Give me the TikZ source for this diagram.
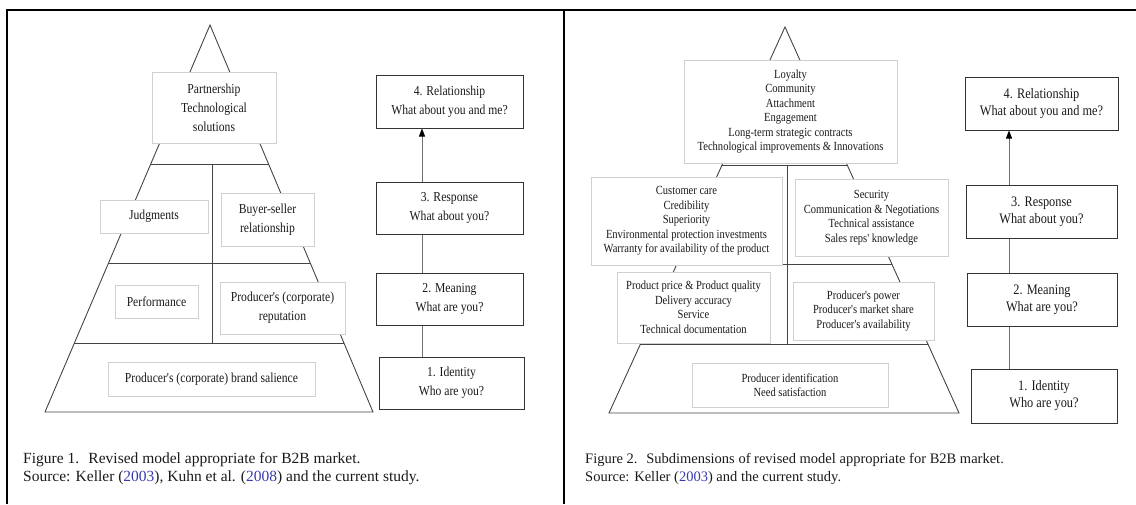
\documentclass[tikz,border=0pt]{standalone}
\usepackage{fontspec}
\setmainfont{Liberation Serif}
\newfontfamily\narrowserif{Liberation Serif}[FakeStretch=0.85]
\usetikzlibrary{arrows.meta,calc}
\definecolor{pyr}{HTML}{444444}
\definecolor{softedge}{HTML}{D0D0D0}
\definecolor{stepline}{HTML}{333333}
\definecolor{linkgray}{HTML}{6E6E6E}
\definecolor{ink}{HTML}{1A1A1A}
\definecolor{citeblue}{HTML}{3A3AB0}
\begin{document}
\begin{tikzpicture}[x=1pt,y=-1pt,
  softbox/.style={draw=softedge, line width=0.9pt, fill=white, inner sep=0pt, align=center, text=ink},
  leftbox/.style={softbox, font=\narrowserif\fontsize{13.7}{19}\selectfont},
  rightbox/.style={softbox, font=\narrowserif\fontsize{12.4}{14.5}\selectfont},
  stepbox/.style={draw=stepline, line width=1pt, fill=white, inner sep=0pt, align=center, text=ink},
  leftstep/.style={stepbox, font=\narrowserif\fontsize{13.7}{19}\selectfont},
  rightstep/.style={stepbox, font=\narrowserif\fontsize{14.5}{17}\selectfont},
  pyrline/.style={draw=pyr, line width=0.9pt},
  link/.style={draw=linkgray, line width=1pt},
  uparrow/.style={link, -{Triangle[length=8pt,width=6pt,color=black]}},
  frameline/.style={draw=black, line width=2.6pt, line join=miter},
  caption/.style={anchor=base west, inner sep=0pt, text=ink}
]
\useasboundingbox (0,0) rectangle (1136,504);

% panel frames
\draw[frameline] (7,504) -- (7,10) -- (564,10) -- (564,504);
\draw[frameline] (564,10) -- (1136,10);

% ---------- left pyramid ----------
\coordinate (la) at (210,25);
\coordinate (lbl) at (45,412);
\coordinate (lbr) at (373,412);
\draw[pyrline] (la) -- (lbl) -- (lbr) -- cycle;
\draw[pyrline] ($(la)!0.3592!(lbl)$) -- ($(la)!0.3592!(lbr)$);
\draw[pyrline] ($(la)!0.6150!(lbl)$) -- ($(la)!0.6150!(lbr)$);
\draw[pyrline] ($(la)!0.8217!(lbl)$) -- ($(la)!0.8217!(lbr)$);
\draw[pyrline] (212,164) -- (212,343);

\node[leftbox, minimum width=124pt, minimum height=71pt] (lt) at (214,107.5) {Partnership\\Technological\\solutions};
\node[leftbox, minimum width=108pt, minimum height=33pt] (lj) at (154,216.5) {Judgments};
\node[leftbox, minimum width=93pt, minimum height=53pt] (lbs) at (267.5,219.5) {Buyer-seller\\relationship};
\node[leftbox, minimum width=83pt, minimum height=33pt] (lp) at (156.5,301.5) {Performance};
\node[leftbox, minimum width=125pt, minimum height=52pt] (lr) at (282.5,308) {Producer's (corporate)\\reputation};
\node[leftbox, minimum width=207pt, minimum height=34pt] (lsal) at (211.5,379) {Producer's (corporate) brand salience};

% left stages
\node[leftstep, minimum width=147pt, minimum height=53pt] (s4) at (449.5,101.5) {4. Relationship\\What about you and me?};
\node[leftstep, minimum width=147pt, minimum height=52pt] (s3) at (449.5,208) {3. Response\\What about you?};
\node[leftstep, minimum width=147pt, minimum height=52pt] (s2) at (449.5,299) {2. Meaning\\What are you?};
\node[leftstep, minimum width=145pt, minimum height=52pt] (s1) at (451.5,383) {1. Identity\\Who are you?};
\coordinate (lcol) at (422,0);
\draw[link] (s1.north -| lcol) -- (s2.south -| lcol);
\draw[link] (s2.north -| lcol) -- (s3.south -| lcol);
\draw[uparrow] (s3.north -| lcol) -- (s4.south -| lcol);

% left caption
\node[caption, font=\fontsize{15.5}{18}\selectfont] (cap1a) at (23,463) {Figure 1.\hspace{0.6em}Revised model appropriate for B2B market.};
\node[caption, font=\fontsize{15.5}{18}\selectfont] (cap1b) at (23,481) {Source: Keller (\textcolor{citeblue}{2003}), Kuhn et al. (\textcolor{citeblue}{2008}) and the current study.};

% ---------- right pyramid ----------
\coordinate (ra) at (785,27);
\coordinate (rbl) at (609,413);
\coordinate (rbr) at (959,413);
\draw[pyrline] (ra) -- (rbl) -- (rbr) -- cycle;
\draw[pyrline] ($(ra)!0.3575!(rbl)$) -- ($(ra)!0.3575!(rbr)$);
\draw[pyrline] ($(ra)!0.6140!(rbl)$) -- ($(ra)!0.6140!(rbr)$);
\draw[pyrline] ($(ra)!0.8212!(rbl)$) -- ($(ra)!0.8212!(rbr)$);
\draw[pyrline] (787,165) -- (787,344);

\node[rightbox, minimum width=213pt, minimum height=103pt] (rt) at (790.5,111.5) {Loyalty\\Community\\Attachment\\Engagement\\Long-term strategic contracts\\Technological improvements \& Innovations};
\node[rightbox, minimum width=191pt, minimum height=88pt] (rml) at (686.5,221) {Customer care\\Credibility\\Superiority\\Environmental protection investments\\Warranty for availability of the product};
\node[rightbox, minimum width=153pt, minimum height=77pt] (rmr) at (871.5,217.5) {Security\\Communication \& Negotiations\\Technical assistance\\Sales reps' knowledge};
\node[rightbox, minimum width=153pt, minimum height=71pt] (rll) at (693.5,307.5) {Product price \& Product quality\\Delivery accuracy\\Service\\Technical documentation};
\node[rightbox, minimum width=141pt, minimum height=58pt] (rlr) at (863.5,311) {Producer's power\\Producer's market share\\Producer's availability};
\node[rightbox, minimum width=196pt, minimum height=44pt] (rb) at (790,385) {Producer identification\\Need satisfaction};

% right stages
\node[rightstep, minimum width=153pt, minimum height=53pt] (r4) at (1041.5,103.5) {4. Relationship\\What about you and me?};
\node[rightstep, minimum width=151pt, minimum height=53pt] (r3) at (1041.5,211.5) {3. Response\\What about you?};
\node[rightstep, minimum width=150pt, minimum height=53pt] (r2) at (1042,299.5) {2. Meaning\\What are you?};
\node[rightstep, minimum width=146pt, minimum height=54pt] (r1) at (1044,396) {1. Identity\\Who are you?};
\coordinate (rcol) at (1009,0);
\draw[link] (r1.north -| rcol) -- (r2.south -| rcol);
\draw[link] (r2.north -| rcol) -- (r3.south -| rcol);
\draw[uparrow] (r3.north -| rcol) -- (r4.south -| rcol);

% right caption
\node[caption, font=\fontsize{14.5}{18}\selectfont] (cap2a) at (585,463) {Figure 2.\hspace{0.6em}Subdimensions of revised model appropriate for B2B market.};
\node[caption, font=\fontsize{14.5}{18}\selectfont] (cap2b) at (585,481) {Source: Keller (\textcolor{citeblue}{2003}) and the current study.};
\end{tikzpicture}
\end{document}
